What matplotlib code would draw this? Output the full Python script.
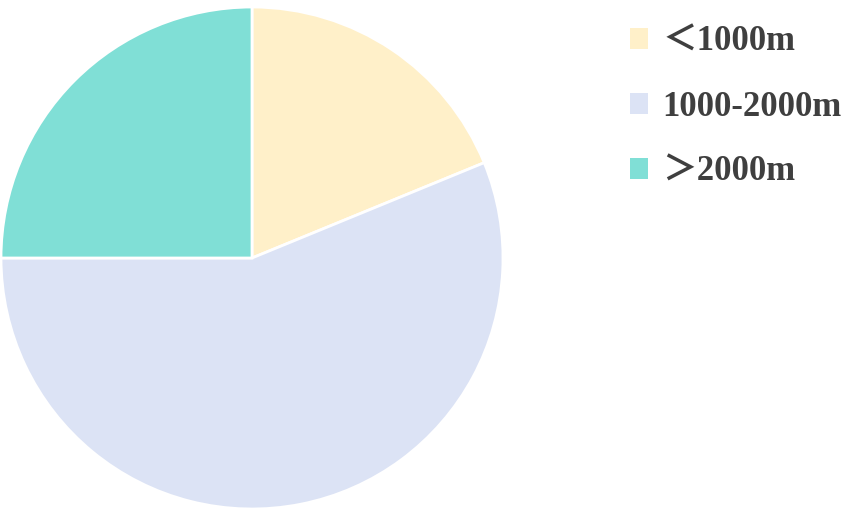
import matplotlib
matplotlib.use("Agg")
import matplotlib.pyplot as plt
from matplotlib.patches import Patch

categories = ["＜1000m", "1000-2000m", "＞2000m"]
values = [18.8, 56.2, 25.0]
colors = ["#FFF0C9", "#DCE3F5", "#80DFD6"]

W, H = 851, 525
fig = plt.figure(figsize=(W / 100, H / 100), dpi=100)
cx, cy, r = 252, 258, 251
ax = fig.add_axes([(cx - r) / W, (H - cy - r) / H, 2 * r / W, 2 * r / H])
ax.pie(values, colors=colors, startangle=90, counterclock=False,
       wedgeprops=dict(edgecolor="white", linewidth=2))
ax.set_xlim(-1, 1)
ax.set_ylim(-1, 1)
ax.set_aspect("equal")
ax.axis("off")

handles = [Patch(facecolor=c, edgecolor="none") for c in colors]
leg = fig.legend(handles, categories, loc="upper left",
                 bbox_to_anchor=(630 / W, 1 - 26 / H), frameon=False,
                 borderpad=0, borderaxespad=0,
                 prop=dict(family=["Liberation Serif", "Noto Sans CJK SC"], weight="bold", size=25),
                 handlelength=0.53, handleheight=0.53, handletextpad=0.4,
                 labelspacing=0.92, labelcolor="#3f3f3f")
fig.savefig("out.png", dpi=100)
